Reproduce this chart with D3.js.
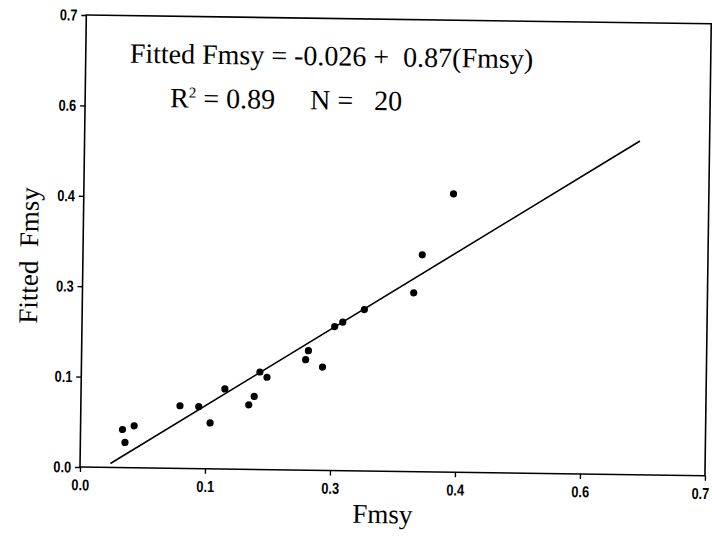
<!DOCTYPE html>
<html>
<head>
<meta charset="utf-8">
<script src="https://cdn.jsdelivr.net/npm/d3@7"></script>
<style>
  body { margin: 0; background: #fff; }
  svg { display: block; }
</style>
</head>
<body>
<svg id="chart" width="712" height="536"></svg>
<script>
// 数据点 (Fmsy, Fitted Fmsy)
const fmsy = [0.047, 0.060, 0.050, 0.111, 0.132, 0.145, 0.161, 0.188, 0.194, 0.200,
              0.208, 0.251, 0.254, 0.270, 0.283, 0.292, 0.316, 0.371, 0.380, 0.414];
const fitted = [0.059, 0.065, 0.039, 0.097, 0.096, 0.071, 0.124, 0.100, 0.113, 0.151,
                0.143, 0.171, 0.185, 0.160, 0.223, 0.230, 0.250, 0.277, 0.336, 0.431];
// 回归线两端
const lineX = [0.034, 0.622];
const lineY = [0.006, 0.517];
// 刻度 (标签是四舍五入的)
const tickValues = [0, 0.14, 0.28, 0.42, 0.56, 0.7];
const tickLabels = ["0.0", "0.1", "0.3", "0.4", "0.6", "0.7"];

const svg = d3.select("#chart");
const padL = 80, padB = 467, padR = 705, padT = 15;

// 扫描图有一点歪，整体转一下
const g = svg.append("g").attr("transform", `rotate(0.8, ${padL}, ${padB})`);

const x = d3.scaleLinear().domain([0, 0.7]).range([padL, padR]);
const y = d3.scaleLinear().domain([0, 0.7]).range([padB, padT]);

// 外框
g.append("rect")
    .attr("x", padL).attr("y", padT)
    .attr("width", padR - padL).attr("height", padB - padT)
    .attr("fill", "none").attr("stroke", "#000").attr("stroke-width", 1.6);

const tickFont = "'Liberation Sans', Arial, sans-serif";

const xAxis = g.append("g")
    .attr("transform", `translate(0,${padB})`)
    .call(d3.axisBottom(x).tickValues(tickValues)
        .tickFormat((d, i) => tickLabels[i]).tickSize(5).tickPadding(7));
const yAxis = g.append("g")
    .attr("transform", `translate(${padL},0)`)
    .call(d3.axisLeft(y).tickValues(tickValues)
        .tickFormat((d, i) => tickLabels[i]).tickSize(5).tickPadding(6));

[xAxis, yAxis].forEach(ax => {
    ax.select(".domain").remove();
    ax.selectAll("line").attr("stroke", "#000").attr("stroke-width", 1.4);
    ax.selectAll("text")
        .attr("fill", "#000")
        .style("font-family", tickFont)
        .style("font-size", "16px")
        .style("font-weight", "bold");
});
// 窄一点的数字
xAxis.selectAll("text").attr("transform", "scale(0.8,1)");
yAxis.selectAll("text").attr("transform", "scale(0.8,1)");
// 最右边的 0.7 稍微往里挪
xAxis.selectAll("text").filter((d, i) => i === tickValues.length - 1).attr("dx", -6);

// 回归线
g.append("line")
    .attr("x1", x(lineX[0])).attr("y1", y(lineY[0]))
    .attr("x2", x(lineX[1])).attr("y2", y(lineY[1]))
    .attr("stroke", "#000").attr("stroke-width", 1.6);

// 散点
g.selectAll("circle.pt")
    .data(fmsy)
    .enter()
    .append("circle")
    .attr("class", "pt")
    .attr("cx", d => x(d))
    .attr("cy", (d, i) => y(fitted[i]))
    .attr("r", 3.6)
    .attr("fill", "#000");

const serif = "'Liberation Serif', 'Times New Roman', serif";

// 方程文字
g.append("text")
    .attr("x", 124).attr("y", 62)
    .style("font-family", serif).style("font-size", "28px")
    .attr("xml:space", "preserve")
    .text("Fitted Fmsy = -0.026 +  0.87(Fmsy)");

const r2 = g.append("text")
    .attr("x", 165).attr("y", 106)
    .style("font-family", serif).style("font-size", "28px")
    .attr("xml:space", "preserve");
r2.append("tspan").text("R");
r2.append("tspan").attr("dy", -10).style("font-size", "15px").text("2");
r2.append("tspan").attr("dy", 10).text(" = 0.89     N =   20");

// 坐标轴标题
g.append("text")
    .attr("x", 383).attr("y", 519)
    .attr("text-anchor", "middle")
    .style("font-family", serif).style("font-size", "27px")
    .text("Fmsy");

g.append("text")
    .attr("transform", "translate(35,256) rotate(-90)")
    .attr("text-anchor", "middle")
    .attr("xml:space", "preserve")
    .style("font-family", serif).style("font-size", "27px")
    .text("Fitted  Fmsy");
</script>
</body>
</html>
